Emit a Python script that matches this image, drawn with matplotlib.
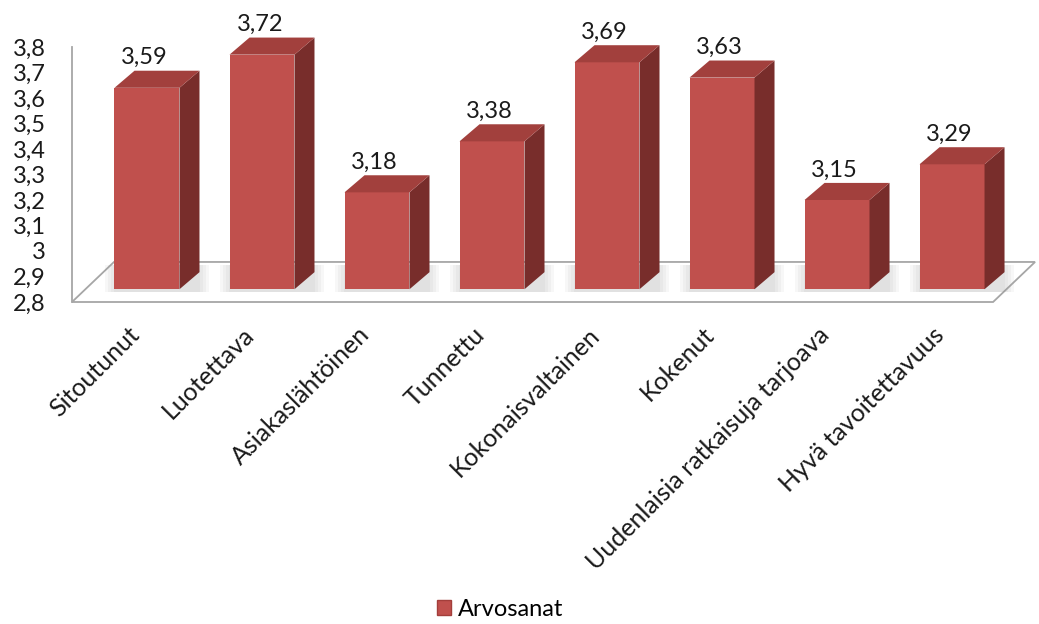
import numpy as np
import matplotlib.pyplot as plt
from matplotlib.patches import Polygon, Rectangle

plt.rcParams['font.family'] = ['Lato', 'DejaVu Sans']

categories = ["Sitoutunut", "Luotettava", "Asiakaslähtöinen", "Tunnettu",
              "Kokonaisvaltainen", "Kokenut", "Uudenlaisia ratkaisuja tarjoava",
              "Hyvä tavoitettavuus"]
values = [3.59, 3.72, 3.18, 3.38, 3.69, 3.63, 3.15, 3.29]
y_ticks = [2.8, 2.9, 3.0, 3.1, 3.2, 3.3, 3.4, 3.5, 3.6, 3.7, 3.8]
y_tick_labels = ["2,8", "2,9", "3", "3,1", "3,2", "3,3", "3,4", "3,5", "3,6", "3,7", "3,8"]
series_name = "Arvosanat"

FRONT = "#C0504D"
TOP = "#A2403D"
SIDE = "#782D2B"
EDGE = "#A6A6A6"
TXT = "#1a1a1a"

W, H = 1039, 624
fig = plt.figure(figsize=(W / 100, H / 100), dpi=100)
ax = fig.add_axes([72 / W, (H - 302) / H, 958 / W, 255 / H])
ax.set_xlim(-0.652, 7.678)
ax.set_ylim(2.8, 3.8)

# pseudo 3d geometry (data units)
bar_w = 0.565
dx, dy = 0.174, 0.067        # depth of a bar
shift = 0.05                 # bars stand a bit behind the front edge
base = 2.8 + shift
fdx, fdy = 0.365, 0.157      # depth of the floor
floor_x0, floor_x1 = -0.652, 7.357

floor = Polygon([(floor_x0, 2.8), (floor_x1, 2.8), (floor_x1 + fdx, 2.8 + fdy),
                 (floor_x0 + fdx, 2.8 + fdy)], closed=True, facecolor="white",
                edgecolor=EDGE, lw=1.3, clip_on=False, zorder=1)
ax.add_patch(floor)

for i, v in enumerate(values):
    x0, x1 = i - bar_w / 2, i + bar_w / 2
    top = v + shift
    # soft shadow on the floor
    for k in range(4):
        g = 0.08 - k * 0.025
        sh = Polygon([(x0 - g, base - 0.012), (x1 + dx + g, base - 0.012),
                      (x1 + dx + g, base + dy + 0.03), (x0 - g, base + dy + 0.03)],
                     closed=True, facecolor="#9a9a9a", alpha=0.08, lw=0,
                     clip_on=False, zorder=2)
        ax.add_patch(sh)
    ax.add_patch(Rectangle((x0, base), bar_w, top - base, facecolor=FRONT,
                           lw=0, clip_on=False, zorder=4))
    ax.add_patch(Polygon([(x1, base), (x1 + dx, base + dy), (x1 + dx, top + dy),
                          (x1, top)], closed=True, facecolor=SIDE, lw=0,
                         clip_on=False, zorder=4))
    ax.add_patch(Polygon([(x0, top), (x1, top), (x1 + dx, top + dy),
                          (x0 + dx, top + dy)], closed=True, facecolor=TOP, lw=0,
                         clip_on=False, zorder=4))
    ax.text(i - 0.02, top + dy + 0.01, f"{v:.2f}".replace(".", ","),
            ha="center", va="bottom", fontsize=17, color=TXT, zorder=5)

for s in ["top", "right", "bottom"]:
    ax.spines[s].set_visible(False)
ax.spines["left"].set_color(EDGE)
ax.spines["left"].set_linewidth(1.3)
ax.set_yticks(y_ticks)
ax.set_yticklabels(y_tick_labels, fontsize=17, color=TXT)
ax.tick_params(axis="y", length=0, pad=19)

ax.set_xticks(np.arange(len(categories)) - 0.17)
ax.set_xticklabels(categories, rotation=45, ha="right", rotation_mode="anchor",
                   fontsize=18, color=TXT)
ax.tick_params(axis="x", length=0, pad=15)

handle = Rectangle((0, 0), 1, 1, facecolor=FRONT, edgecolor="#A33E3B")
fig.legend([handle], [series_name], loc="center", bbox_to_anchor=(500 / W, 1 - 609 / H),
           frameon=False, fontsize=17, handlelength=0.6, handleheight=0.6,
           handletextpad=0.3)

fig.savefig("out.png", dpi=100)
